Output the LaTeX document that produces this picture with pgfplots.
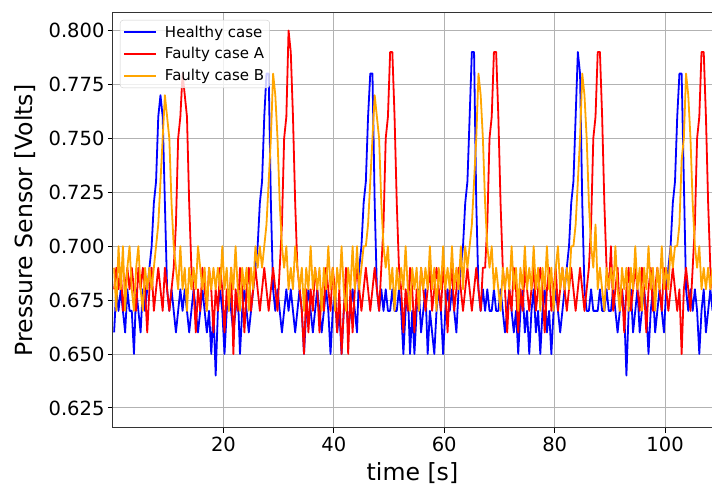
\documentclass[border=0pt]{standalone}
\usepackage{fontspec}
\setmainfont{DejaVu Sans}
\usepackage{pgfplots}
\usepackage{pgfplotstable}
\pgfplotsset{compat=1.18}
\definecolor{mplorange}{RGB}{255,165,0}
\pgfplotstableread{
t h a b
0.2 0.66 0.68 0.69
0.6 0.68 0.69 0.67
1.0 0.67 0.68 0.70
1.4 0.68 0.69 0.68
1.8 0.67 0.67 0.70
2.2 0.66 0.68 0.67
2.6 0.68 0.69 0.69
3.0 0.67 0.68 0.70
3.4 0.67 0.69 0.68
3.8 0.65 0.68 0.67
4.2 0.68 0.67 0.69
4.6 0.67 0.69 0.70
5.0 0.66 0.68 0.68
5.4 0.68 0.69 0.67
5.8 0.67 0.68 0.69
6.2 0.68 0.66 0.68
6.6 0.69 0.68 0.69
7.0 0.70 0.69 0.68
7.4 0.72 0.67 0.69
7.8 0.73 0.68 0.70
8.2 0.76 0.69 0.71
8.6 0.77 0.68 0.73
9.0 0.76 0.67 0.75
9.4 0.72 0.69 0.77
9.8 0.68 0.68 0.76
10.2 0.67 0.67 0.75
10.6 0.68 0.68 0.72
11.0 0.67 0.69 0.70
11.4 0.66 0.71 0.69
11.8 0.67 0.75 0.68
12.2 0.68 0.76 0.70
12.6 0.67 0.78 0.68
13.0 0.68 0.77 0.69
13.4 0.67 0.76 0.67
13.8 0.66 0.72 0.69
14.2 0.67 0.69 0.68
14.6 0.68 0.68 0.69
15.0 0.67 0.66 0.68
15.4 0.66 0.68 0.70
15.8 0.67 0.67 0.69
16.2 0.68 0.69 0.68
16.6 0.67 0.68 0.69
17.0 0.66 0.67 0.67
17.4 0.67 0.69 0.69
17.8 0.65 0.68 0.68
18.2 0.67 0.66 0.69
18.6 0.64 0.68 0.68
19.0 0.67 0.67 0.69
19.4 0.68 0.69 0.68
19.8 0.67 0.68 0.70
20.2 0.65 0.66 0.68
20.6 0.67 0.68 0.69
21.0 0.68 0.67 0.67
21.4 0.67 0.69 0.69
21.8 0.66 0.65 0.68
22.2 0.67 0.68 0.70
22.6 0.68 0.67 0.68
23.0 0.65 0.69 0.67
23.4 0.67 0.68 0.69
23.8 0.68 0.66 0.68
24.2 0.67 0.68 0.69
24.6 0.66 0.69 0.67
25.0 0.67 0.67 0.69
25.4 0.68 0.68 0.68
25.8 0.69 0.69 0.70
26.2 0.70 0.68 0.69
26.6 0.72 0.67 0.70
27.0 0.73 0.68 0.69
27.4 0.76 0.69 0.70
27.8 0.78 0.68 0.71
28.2 0.78 0.67 0.73
28.6 0.72 0.68 0.75
29.0 0.68 0.69 0.78
29.4 0.67 0.68 0.77
29.8 0.68 0.67 0.75
30.2 0.67 0.69 0.72
30.6 0.66 0.71 0.70
31.0 0.67 0.75 0.69
31.4 0.68 0.76 0.70
31.8 0.67 0.80 0.68
32.2 0.68 0.79 0.69
32.6 0.67 0.76 0.68
33.0 0.66 0.72 0.70
33.4 0.67 0.69 0.69
33.8 0.68 0.68 0.68
34.2 0.67 0.67 0.69
34.6 0.65 0.65 0.67
35.0 0.67 0.68 0.69
35.4 0.68 0.66 0.68
35.8 0.67 0.68 0.70
36.2 0.66 0.67 0.68
36.6 0.67 0.69 0.69
37.0 0.68 0.68 0.68
37.4 0.67 0.66 0.69
37.8 0.66 0.68 0.67
38.2 0.67 0.67 0.69
38.6 0.68 0.69 0.68
39.0 0.67 0.68 0.70
39.4 0.65 0.67 0.68
39.8 0.67 0.69 0.69
40.2 0.68 0.68 0.67
40.6 0.66 0.66 0.69
41.0 0.67 0.68 0.68
41.4 0.65 0.65 0.70
41.8 0.67 0.67 0.68
42.2 0.68 0.69 0.67
42.6 0.66 0.65 0.69
43.0 0.67 0.68 0.68
43.4 0.68 0.66 0.70
43.8 0.67 0.68 0.68
44.2 0.66 0.69 0.70
44.6 0.69 0.68 0.68
45.0 0.70 0.67 0.69
45.4 0.72 0.68 0.70
45.8 0.73 0.69 0.70
46.2 0.76 0.68 0.71
46.6 0.78 0.67 0.73
47.0 0.78 0.68 0.75
47.4 0.72 0.69 0.77
47.8 0.68 0.68 0.76
48.2 0.67 0.67 0.75
48.6 0.68 0.69 0.72
49.0 0.67 0.71 0.70
49.4 0.68 0.75 0.69
49.8 0.67 0.76 0.70
50.2 0.67 0.79 0.68
50.6 0.68 0.79 0.69
51.0 0.67 0.76 0.67
51.4 0.67 0.72 0.69
51.8 0.68 0.69 0.68
52.2 0.67 0.68 0.69
52.6 0.65 0.66 0.68
53.0 0.67 0.68 0.70
53.4 0.68 0.67 0.68
53.8 0.65 0.69 0.67
54.2 0.67 0.68 0.69
54.6 0.65 0.66 0.68
55.0 0.67 0.68 0.69
55.4 0.68 0.67 0.67
55.8 0.66 0.69 0.69
56.2 0.67 0.68 0.68
56.6 0.68 0.67 0.69
57.0 0.65 0.68 0.68
57.4 0.67 0.69 0.70
57.8 0.66 0.67 0.68
58.2 0.65 0.68 0.69
58.6 0.67 0.69 0.67
59.0 0.68 0.68 0.69
59.4 0.67 0.67 0.68
59.8 0.65 0.69 0.70
60.2 0.67 0.68 0.68
60.6 0.68 0.66 0.69
61.0 0.67 0.68 0.68
61.4 0.68 0.69 0.70
61.8 0.67 0.67 0.68
62.2 0.66 0.68 0.69
62.6 0.68 0.69 0.68
63.0 0.69 0.68 0.70
63.4 0.70 0.67 0.68
63.8 0.72 0.68 0.70
64.2 0.73 0.69 0.69
64.6 0.76 0.68 0.70
65.0 0.79 0.67 0.71
65.4 0.79 0.68 0.73
65.8 0.72 0.69 0.75
66.2 0.68 0.68 0.78
66.6 0.67 0.67 0.77
67.0 0.68 0.69 0.75
67.4 0.67 0.69 0.72
67.8 0.68 0.71 0.70
68.2 0.67 0.75 0.69
68.6 0.67 0.76 0.70
69.0 0.68 0.79 0.68
69.4 0.67 0.79 0.69
69.8 0.67 0.76 0.68
70.2 0.68 0.72 0.67
70.6 0.67 0.69 0.69
71.0 0.66 0.68 0.68
71.4 0.67 0.66 0.69
71.8 0.68 0.68 0.68
72.2 0.67 0.67 0.70
72.6 0.66 0.69 0.68
73.0 0.67 0.68 0.69
73.4 0.65 0.66 0.67
73.8 0.67 0.68 0.69
74.2 0.68 0.67 0.68
74.6 0.66 0.69 0.70
75.0 0.67 0.68 0.68
75.4 0.65 0.67 0.69
75.8 0.67 0.68 0.68
76.2 0.68 0.69 0.70
76.6 0.66 0.67 0.68
77.0 0.67 0.68 0.69
77.4 0.65 0.69 0.67
77.8 0.67 0.68 0.69
78.2 0.68 0.66 0.68
78.6 0.66 0.68 0.70
79.0 0.67 0.69 0.68
79.4 0.65 0.67 0.69
79.8 0.67 0.68 0.67
80.2 0.68 0.69 0.69
80.6 0.67 0.67 0.70
81.0 0.66 0.68 0.68
81.4 0.67 0.69 0.69
81.8 0.68 0.68 0.68
82.2 0.69 0.67 0.69
82.6 0.70 0.68 0.68
83.0 0.72 0.69 0.70
83.4 0.73 0.68 0.70
83.8 0.76 0.67 0.71
84.2 0.79 0.68 0.73
84.6 0.78 0.69 0.75
85.0 0.72 0.68 0.78
85.4 0.68 0.67 0.77
85.8 0.67 0.68 0.75
86.2 0.67 0.69 0.72
86.6 0.68 0.71 0.70
87.0 0.67 0.75 0.69
87.4 0.67 0.76 0.71
87.8 0.67 0.79 0.68
88.2 0.68 0.79 0.69
88.6 0.67 0.76 0.68
89.0 0.67 0.72 0.67
89.4 0.68 0.69 0.69
89.8 0.67 0.68 0.68
90.2 0.67 0.70 0.69
90.6 0.68 0.67 0.68
91.0 0.67 0.68 0.70
91.4 0.66 0.69 0.68
91.8 0.67 0.67 0.67
92.2 0.68 0.68 0.69
92.6 0.67 0.66 0.68
93.0 0.64 0.68 0.69
93.4 0.67 0.69 0.67
93.8 0.68 0.67 0.69
94.2 0.66 0.68 0.68
94.6 0.67 0.69 0.70
95.0 0.68 0.68 0.68
95.4 0.66 0.67 0.69
95.8 0.67 0.69 0.67
96.2 0.68 0.68 0.69
96.6 0.67 0.66 0.68
97.0 0.65 0.68 0.70
97.4 0.67 0.69 0.68
97.8 0.68 0.67 0.69
98.2 0.66 0.68 0.67
98.6 0.67 0.69 0.69
99.0 0.68 0.68 0.68
99.4 0.67 0.67 0.70
99.8 0.66 0.69 0.68
100.2 0.68 0.68 0.69
100.6 0.69 0.67 0.68
101.0 0.70 0.68 0.70
101.4 0.72 0.69 0.69
101.8 0.73 0.68 0.70
102.2 0.76 0.67 0.70
102.6 0.78 0.68 0.71
103.0 0.78 0.65 0.74
103.4 0.73 0.68 0.75
103.8 0.68 0.69 0.78
104.2 0.67 0.68 0.77
104.6 0.68 0.67 0.75
105.0 0.67 0.69 0.72
105.4 0.68 0.71 0.70
105.8 0.67 0.75 0.69
106.2 0.65 0.76 0.70
106.6 0.67 0.79 0.68
107.0 0.68 0.79 0.69
107.4 0.66 0.76 0.68
107.8 0.67 0.72 0.69
108.2 0.68 0.69 0.68
108.6 0.67 0.68 0.69
}\datatable
\begin{document}
\begin{tikzpicture}
\useasboundingbox (-113pt,-58pt) rectangle (599pt,428pt);
\begin{axis}[
  at={(0pt,0pt)}, anchor=south west,
  scale only axis, width=599pt, height=415pt,
  xmin=0, xmax=108.5, ymin=0.6157, ymax=0.8081,
  xtick={20,40,60,80,100},
  ytick={0.625,0.650,0.675,0.700,0.725,0.750,0.775,0.800},
  /pgf/number format/assume math mode=true,
  yticklabel style={/pgf/number format/.cd, fixed, fixed zerofill, precision=3},
  tick label style={font=\fontsize{19.5}{23}\selectfont},
  label style={font=\fontsize{23.6}{28}\selectfont},
  tick align=outside, major tick length=5pt,
  xtick pos=bottom, ytick pos=left,
  tick style={black, line width=0.9pt},
  axis line style={black!80, line width=1pt},
  grid=major, major grid style={gray!60, line width=0.9pt},
  xlabel={time [s]}, ylabel={Pressure Sensor [Volts]},
  xlabel style={at={(axis description cs:0.5,-0.1277)}, anchor=base},
  ylabel style={at={(axis description cs:-0.1336,0.5)}, anchor=base},
  legend cell align=left,
  legend image code/.code={\draw[#1, line width=1.8pt] (0pt,0pt) -- (32pt,0pt);},
  legend style={at={(axis description cs:0,1)}, anchor=north west,
    xshift=7pt, yshift=-7pt, draw=black!20, rounded corners=3pt,
    fill=white, fill opacity=0.8, text opacity=1,
    font=\fontsize{15}{18}\selectfont, nodes={inner sep=2.5pt},
    row sep=4pt, inner sep=3pt,
    /tikz/every odd column/.append style={column sep=5.5pt}},
  every axis plot/.append style={line width=1.8pt, line join=round},
]
\addplot[blue, no marks] table[x=t, y=h] {\datatable};
\addlegendentry{Healthy case}
\addplot[red, no marks] table[x=t, y=a] {\datatable};
\addlegendentry{Faulty case A}
\addplot[mplorange, no marks] table[x=t, y=b] {\datatable};
\addlegendentry{Faulty case B}
\end{axis}
\end{tikzpicture}
\end{document}
